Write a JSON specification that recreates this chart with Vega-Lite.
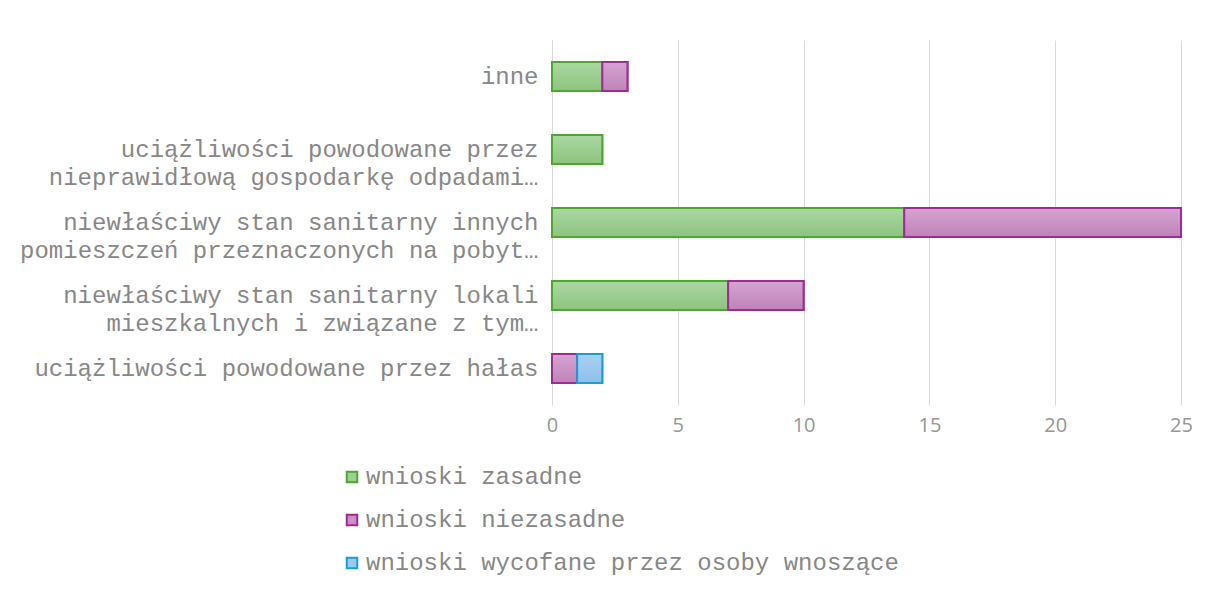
{
  "$schema": "https://vega.github.io/schema/vega-lite/v6.json",
  "width": 629,
  "height": 365,
  "autosize": {"type": "none"},
  "padding": {"left": 552, "top": 40, "right": 32, "bottom": 187},
  "background": "white",
  "config": {"view": {"stroke": null}, "font": "Liberation Mono"},
  "data": {
    "values": [
      {"kategoria": "inne", "seria": "wnioski zasadne", "nr": 1, "liczba": 2},
      {"kategoria": "inne", "seria": "wnioski niezasadne", "nr": 2, "liczba": 1},
      {"kategoria": "uciążliwości powodowane przez|nieprawidłową gospodarkę odpadami…", "seria": "wnioski zasadne", "nr": 1, "liczba": 2},
      {"kategoria": "niewłaściwy stan sanitarny innych|pomieszczeń przeznaczonych na pobyt…", "seria": "wnioski zasadne", "nr": 1, "liczba": 14},
      {"kategoria": "niewłaściwy stan sanitarny innych|pomieszczeń przeznaczonych na pobyt…", "seria": "wnioski niezasadne", "nr": 2, "liczba": 11},
      {"kategoria": "niewłaściwy stan sanitarny lokali|mieszkalnych i związane z tym…", "seria": "wnioski zasadne", "nr": 1, "liczba": 7},
      {"kategoria": "niewłaściwy stan sanitarny lokali|mieszkalnych i związane z tym…", "seria": "wnioski niezasadne", "nr": 2, "liczba": 3},
      {"kategoria": "uciążliwości powodowane przez hałas", "seria": "wnioski niezasadne", "nr": 2, "liczba": 1},
      {"kategoria": "uciążliwości powodowane przez hałas", "seria": "wnioski wycofane przez osoby wnoszące", "nr": 3, "liczba": 1}
    ]
  },
  "transform": [
    {"stack": "liczba", "groupby": ["kategoria"], "sort": [{"field": "nr", "order": "ascending"}], "as": ["x0", "x1"]}
  ],
  "encoding": {
    "y": {
      "field": "kategoria",
      "type": "nominal",
      "sort": [
        "inne",
        "uciążliwości powodowane przez|nieprawidłową gospodarkę odpadami…",
        "niewłaściwy stan sanitarny innych|pomieszczeń przeznaczonych na pobyt…",
        "niewłaściwy stan sanitarny lokali|mieszkalnych i związane z tym…",
        "uciążliwości powodowane przez hałas"
      ],
      "scale": {"paddingInner": 0.6, "paddingOuter": 0.3},
      "axis": {
        "title": null,
        "ticks": false,
        "domainColor": "#d9d9d9",
        "labelFont": "Liberation Mono",
        "labelFontSize": 24,
        "labelColor": "#878787",
        "labelPadding": 14,
        "labelLimit": 600,
        "labelLineHeight": 28,
        "labelExpr": "split(datum.label, '|')"
      }
    },
    "x": {
      "field": "x0",
      "type": "quantitative",
      "scale": {"domain": [0, 25]},
      "axis": {
        "title": null,
        "values": [0, 5, 10, 15, 20, 25],
        "domain": false,
        "ticks": false,
        "labelFlush": false,
        "gridColor": "#d9d9d9",
        "labelFont": "Open Sans",
        "labelFontSize": 20,
        "labelColor": "#969696",
        "labelPadding": 10
      }
    },
    "x2": {"field": "x1"}
  },
  "layer": [
    {
      "mark": {"type": "bar", "strokeWidth": 2},
      "encoding": {
        "fill": {
          "field": "seria",
          "type": "nominal",
          "scale": {
            "domain": ["wnioski zasadne", "wnioski niezasadne", "wnioski wycofane przez osoby wnoszące"],
            "range": ["#9ccf91", "#c993c4", "#9bc9ee"]
          },
          "legend": {
            "title": null,
            "orient": "none",
            "legendX": -212,
            "legendY": 425,
            "direction": "vertical",
            "symbolType": "square",
            "symbolSize": 110,
            "symbolStrokeWidth": 2,
            "labelFont": "Liberation Mono",
            "labelFontSize": 24,
            "labelColor": "#878787",
            "labelOffset": 2,
            "labelLimit": 700,
            "rowPadding": 19
          }
        },
        "stroke": {
          "field": "seria",
          "type": "nominal",
          "scale": {
            "domain": ["wnioski zasadne", "wnioski niezasadne", "wnioski wycofane przez osoby wnoszące"],
            "range": ["#4ea72e", "#a02b93", "#1a9ed6"]
          },
          "legend": {
            "title": null,
            "orient": "none",
            "legendX": -212,
            "legendY": 425,
            "direction": "vertical",
            "symbolType": "square",
            "symbolSize": 110,
            "symbolStrokeWidth": 2,
            "labelFont": "Liberation Mono",
            "labelFontSize": 24,
            "labelColor": "#878787",
            "labelOffset": 2,
            "labelLimit": 700,
            "rowPadding": 19
          }
        }
      }
    },
    {
      "transform": [{"filter": "datum.nr == 1"}],
      "mark": {
        "type": "bar",
        "strokeWidth": 2,
        "stroke": "#4ea72e",
        "fill": {"gradient": "linear", "x1": 0, "y1": 0, "x2": 0, "y2": 1, "stops": [{"offset": 0, "color": "#abd8a3"}, {"offset": 1, "color": "#8cc47e"}]}
      }
    },
    {
      "transform": [{"filter": "datum.nr == 2"}],
      "mark": {
        "type": "bar",
        "strokeWidth": 2,
        "stroke": "#a02b93",
        "fill": {"gradient": "linear", "x1": 0, "y1": 0, "x2": 0, "y2": 1, "stops": [{"offset": 0, "color": "#d4a4d0"}, {"offset": 1, "color": "#bf83ba"}]}
      }
    },
    {
      "transform": [{"filter": "datum.nr == 3"}],
      "mark": {
        "type": "bar",
        "strokeWidth": 2,
        "stroke": "#1a9ed6",
        "fill": {"gradient": "linear", "x1": 0, "y1": 0, "x2": 0, "y2": 1, "stops": [{"offset": 0, "color": "#a8d1f2"}, {"offset": 1, "color": "#8ec0ea"}]}
      }
    }
  ]
}
